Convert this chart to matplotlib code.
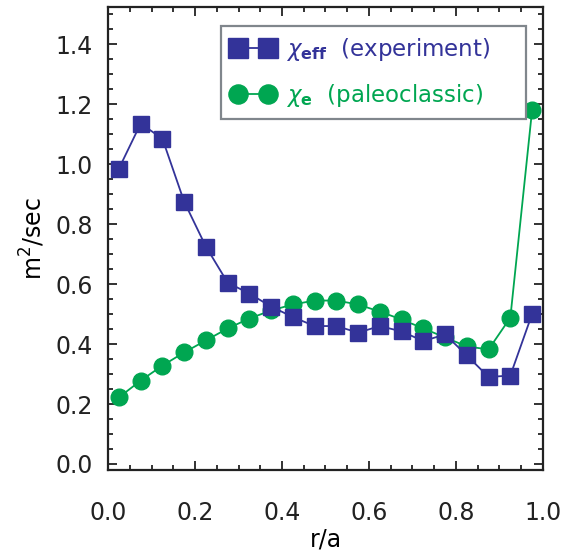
import numpy as np
import matplotlib
matplotlib.use("Agg")
import matplotlib.pyplot as plt
from matplotlib.ticker import MultipleLocator, FormatStrFormatter

# radial positions (r/a)
r_a = [0.025, 0.075, 0.125, 0.175, 0.225, 0.275, 0.325, 0.375, 0.425, 0.475,
       0.525, 0.575, 0.625, 0.675, 0.725, 0.775, 0.825, 0.875, 0.925, 0.975]

# chi_eff from experiment
chi_eff = [0.985, 1.135, 1.085, 0.875, 0.725, 0.605, 0.568, 0.525, 0.49, 0.46,
           0.46, 0.438, 0.46, 0.442, 0.41, 0.432, 0.362, 0.29, 0.295, 0.5]

# chi_e paleoclassic
chi_e = [0.222, 0.278, 0.328, 0.372, 0.412, 0.452, 0.485, 0.512, 0.532, 0.545,
         0.545, 0.532, 0.508, 0.482, 0.452, 0.422, 0.392, 0.382, 0.488, 1.18]

blue = '#333399'
green = '#00a651'

fig = plt.figure(figsize=(5.65, 5.52), dpi=100)
ax = fig.add_axes([0.1912, 0.1486, 0.7698, 0.8387])

ax.plot(r_a, chi_e, '-o', color=green, lw=1.3, ms=12, label=r'$\chi_{\mathbf{e}}$  (paleoclassic)', zorder=2)
ax.plot(r_a, chi_eff, '-s', color=blue, lw=1.3, ms=12, label=r'$\chi_{\mathbf{eff}}$  (experiment)', zorder=3)

ax.set_xlim(0, 1.0)
ax.set_ylim(-0.02, 1.524)
ax.xaxis.set_major_locator(MultipleLocator(0.2))
ax.xaxis.set_minor_locator(MultipleLocator(0.05))
ax.yaxis.set_major_locator(MultipleLocator(0.2))
ax.yaxis.set_minor_locator(MultipleLocator(0.05))
ax.xaxis.set_major_formatter(FormatStrFormatter('%.1f'))
ax.yaxis.set_major_formatter(FormatStrFormatter('%.1f'))

ax.tick_params(which='both', direction='in', top=True, right=True, width=1.3, colors='#222222')
ax.tick_params(which='major', length=6.5)
ax.tick_params(which='minor', length=3.5)
ax.tick_params(axis='x', which='major', pad=22, labelsize=17)
ax.tick_params(axis='y', which='major', pad=11, labelsize=17)
for s in ax.spines.values():
    s.set_linewidth(1.6)
    s.set_color('#222222')

ax.set_xlabel('r/a', fontsize=17, labelpad=2)
ax.set_ylabel(r'm$^2$/sec', fontsize=17, labelpad=6)

handles, labels = ax.get_legend_handles_labels()
leg = ax.legend(handles[::-1], labels[::-1], loc='upper left',
                bbox_to_anchor=(0.26, 0.752, 0.701, 0.207), mode='expand',
                numpoints=2, fontsize=16.5, fancybox=False, framealpha=1,
                edgecolor='#80868c', handlelength=1.9, handletextpad=0.5,
                borderaxespad=0, labelspacing=0.8, borderpad=0.45,
                markerscale=1.15)
leg.get_frame().set_linewidth(1.6)
for txt, c in zip(leg.get_texts(), [blue, green]):
    txt.set_color(c)

fig.savefig('out.png', dpi=100)
